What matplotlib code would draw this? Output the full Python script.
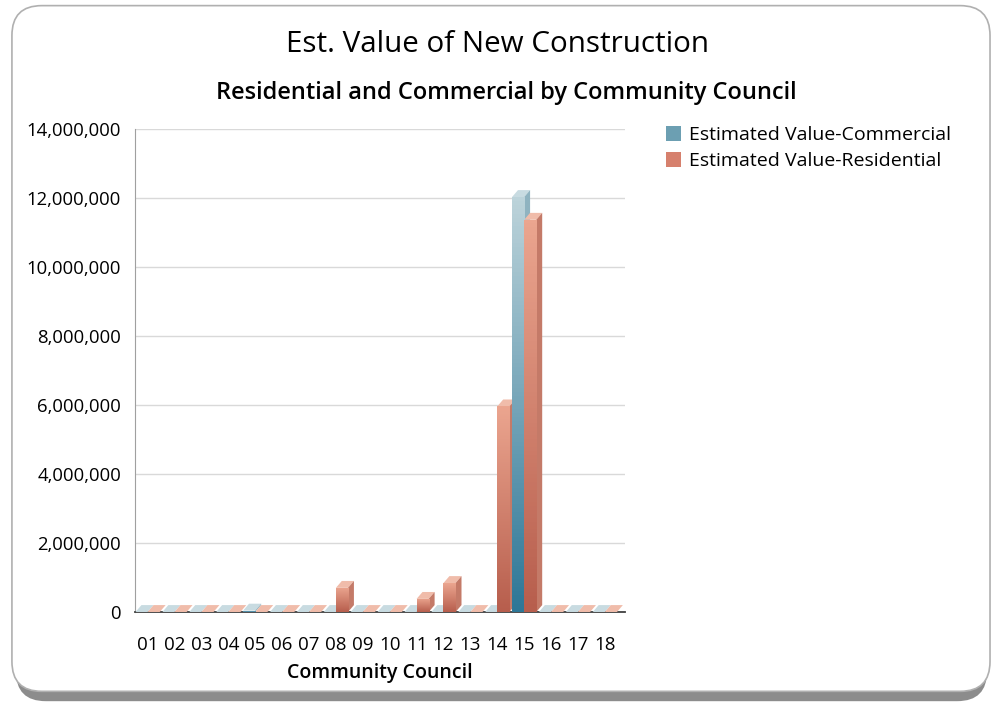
import numpy as np
import matplotlib
matplotlib.use('Agg')
import matplotlib.pyplot as plt
from matplotlib.patches import FancyBboxPatch, Polygon, Patch
from matplotlib.colors import LinearSegmentedColormap

# Data
councils = ['01', '02', '03', '04', '05', '06', '07', '08', '09',
            '10', '11', '12', '13', '14', '15', '16', '17', '18']
commercial = [0, 0, 0, 0, 40000, 0, 0, 0, 0,
              0, 0, 0, 0, 0, 12030000, 0, 0, 0]
residential = [0, 0, 0, 0, 0, 0, 0, 700000, 0,
               0, 380000, 840000, 0, 5960000, 11370000, 0, 0, 0]
yticks = [0, 2000000, 4000000, 6000000, 8000000, 10000000, 12000000, 14000000]

plt.rcParams['font.family'] = ['Open Sans', 'DejaVu Sans']

fig = plt.figure(figsize=(9.94, 7.04), dpi=100)

# rounded frame with shadow
shadow = FancyBboxPatch((0.016, 0.004), 0.977, 0.975, boxstyle='round,pad=0,rounding_size=0.03',
                        transform=fig.transFigure, facecolor='#8c8c8c', edgecolor='none',
                        mutation_aspect=994 / 704, zorder=0)
frame = FancyBboxPatch((0.012, 0.018), 0.984, 0.974, boxstyle='round,pad=0,rounding_size=0.03',
                       transform=fig.transFigure, facecolor='white', edgecolor='#b0b0b0',
                       linewidth=1.2, mutation_aspect=994 / 704, zorder=1)
fig.patches.extend([shadow, frame])

ax = fig.add_axes([0.1358, 0.1307, 0.4930, 0.686])
ax.set_zorder(2)
ax.patch.set_alpha(0)

x = np.arange(len(councils))
w = 0.45
dx = 0.22        # 3d depth in category units
dy = 200000      # 3d depth in value units

com_cmap = LinearSegmentedColormap.from_list('com', ['#2e7797', '#bcd3da'])
res_cmap = LinearSegmentedColormap.from_list('res', ['#b75e4d', '#eba58f'])

series = [
    (commercial, -w / 2, com_cmap, '#c8dbe1', '#8fb3c0'),
    (residential, w / 2, res_cmap, '#f0bcaa', '#c47a68'),
]

grad = np.linspace(0, 1, 100).reshape(-1, 1)
for vals, off, cmap, topc, sidec in series:
    bars = ax.bar(x + off, vals, w, color='none', edgecolor='none', zorder=3)
    for b in bars:
        x0 = b.get_x()
        x1 = x0 + b.get_width()
        h = b.get_height()
        # top face (also the floor stripe for zero values)
        ax.add_patch(Polygon([(x0, h), (x1, h), (x1 + dx, h + dy), (x0 + dx, h + dy)],
                             closed=True, facecolor=topc, edgecolor='none', zorder=3))
        if h > 0:
            ax.add_patch(Polygon([(x1, 0), (x1, h), (x1 + dx, h + dy), (x1 + dx, dy)],
                                 closed=True, facecolor=sidec, edgecolor='none', zorder=3))
            im = ax.imshow(grad, cmap=cmap, origin='lower', aspect='auto',
                           extent=[x0, x1, 0, h], zorder=4)
            im.set_clip_path(b)

ax.set_xlim(-0.47, 17.75)
ax.set_ylim(0, 14000000)
ax.set_yticks(yticks)
ax.set_yticklabels(['{:,}'.format(v) for v in yticks], fontsize=13.3)
ax.set_xticks(x)
ax.set_xticklabels(councils, fontsize=13.5)
ax.tick_params(axis='x', length=0, pad=17)
ax.tick_params(axis='y', length=0, pad=10)
ax.grid(axis='y', color='#d9d9d9', linewidth=1)
ax.set_axisbelow(True)

for s in ['top', 'right']:
    ax.spines[s].set_visible(False)
ax.spines['left'].set_color('#a0a0a0')
ax.spines['bottom'].set_color('#404040')
ax.spines['bottom'].set_linewidth(1.3)

ax.set_xlabel('Community Council', fontsize=14, fontweight='semibold', labelpad=7)

fig.text(0.50, 0.937, 'Est. Value of New Construction', ha='center', va='center',
         fontsize=21.3, fontweight='medium')
fig.text(0.509, 0.868, 'Residential and Commercial by Community Council', ha='center',
         va='center', fontsize=17, fontweight='semibold')

handles = [Patch(facecolor='#6c9fb2', edgecolor='none'),
           Patch(facecolor='#d6806d', edgecolor='none')]
fig.legend(handles, ['Estimated Value-Commercial', 'Estimated Value-Residential'],
           loc='upper left', bbox_to_anchor=(0.652, 0.846), frameon=False, fontsize=14,
           handlelength=0.8, handleheight=0.8, handletextpad=0.4, labelspacing=0.42)

plt.savefig('out.png', dpi=100)
